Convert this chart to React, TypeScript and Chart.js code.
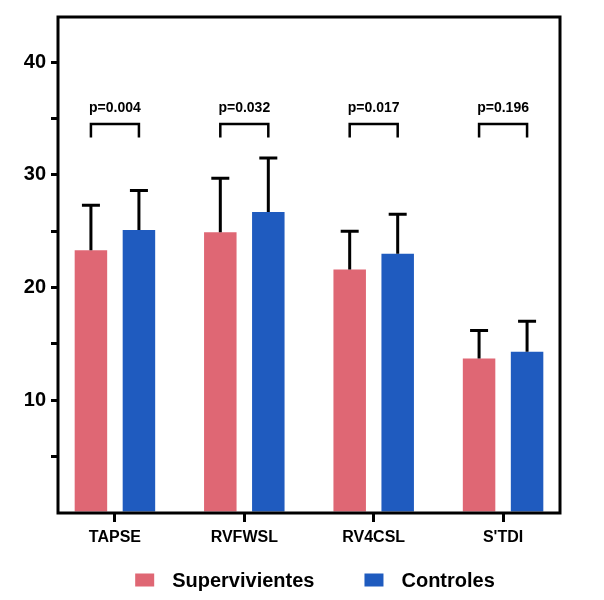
import { useEffect, useRef } from 'react'
import { Chart, registerables } from 'chart.js'

Chart.register(...registerables)

const CATEGORIES = ['TAPSE', 'RVFWSL', 'RV4CSL', "S'TDI"]
const SUPERVIVIENTES = [23.3, 24.9, 21.6, 13.7]
const SUPERVIVIENTES_SD = [4.0, 4.8, 3.4, 2.5]
const CONTROLES = [25.1, 26.7, 23.0, 14.3]
const CONTROLES_SD = [3.5, 4.8, 3.5, 2.7]
const P_VALUES = ['p=0.004', 'p=0.032', 'p=0.017', 'p=0.196']
const Y_TICKS = [0, 5, 10, 15, 20, 25, 30, 35, 40]
const BRACKET_TOP = 34.5
const BRACKET_FOOT = 33.3

const RED = '#DF6774'
const BLUE = '#1F5BBF'
const FONT = "'Liberation Sans', Arial, Helvetica, sans-serif"

// one-sided SD whiskers on top of each bar
const errorBars = {
  id: 'errorBars',
  afterDatasetsDraw(chart: any) {
    const { ctx } = chart
    const y = chart.scales.y
    const sds = [SUPERVIVIENTES_SD, CONTROLES_SD]
    ctx.save()
    ctx.strokeStyle = '#000'
    ctx.lineWidth = 3
    chart.data.datasets.forEach((ds: any, di: number) => {
      chart.getDatasetMeta(di).data.forEach((bar: any, i: number) => {
        const top = y.getPixelForValue(ds.data[i].y + sds[di][i])
        ctx.beginPath()
        ctx.moveTo(bar.x, bar.y)
        ctx.lineTo(bar.x, top)
        ctx.moveTo(bar.x - 9, top)
        ctx.lineTo(bar.x + 9, top)
        ctx.stroke()
      })
    })
    ctx.restore()
  },
}

const brackets = {
  id: 'brackets',
  afterDatasetsDraw(chart: any) {
    const { ctx } = chart
    const y = chart.scales.y
    const m0 = chart.getDatasetMeta(0)
    const m1 = chart.getDatasetMeta(1)
    const yt = y.getPixelForValue(BRACKET_TOP)
    const yf = y.getPixelForValue(BRACKET_FOOT)
    ctx.save()
    ctx.strokeStyle = '#000'
    ctx.lineWidth = 2.5
    ctx.fillStyle = '#000'
    ctx.font = `bold 14px ${FONT}`
    ctx.textAlign = 'center'
    ctx.textBaseline = 'alphabetic'
    P_VALUES.forEach((p, i) => {
      const x0 = m0.data[i].x
      const x1 = m1.data[i].x
      ctx.beginPath()
      ctx.moveTo(x0, yf)
      ctx.lineTo(x0, yt)
      ctx.lineTo(x1, yt)
      ctx.lineTo(x1, yf)
      ctx.stroke()
      ctx.fillText(p, (x0 + x1) / 2, yt - 12)
    })
    ctx.restore()
  },
}

const frame = {
  id: 'frame',
  afterDatasetsDraw(chart: any) {
    const { ctx, chartArea: a } = chart
    ctx.save()
    ctx.strokeStyle = '#000'
    ctx.lineWidth = 3
    ctx.strokeRect(a.left, a.top, a.right - a.left, a.bottom - a.top)
    ctx.restore()
  },
}

const legendBox = {
  id: 'legendBox',
  afterDraw(chart: any) {
    const { ctx, chartArea: a } = chart
    const items = chart.data.datasets.map((ds: any) => ({ label: ds.label, color: ds.backgroundColor }))
    ctx.save()
    ctx.font = `bold 20px ${FONT}`
    const widths = items.map((it: any) => ctx.measureText(it.label).width)
    const total = widths.reduce((s: number, w: number) => s + w, 0) + items.length * 37 + 50 * (items.length - 1)
    let x = (a.left + a.right) / 2 + 6 - total / 2
    const cy = 580
    ctx.textBaseline = 'middle'
    ctx.textAlign = 'left'
    items.forEach((it: any, i: number) => {
      ctx.fillStyle = it.color
      ctx.fillRect(x, cy - 6.5, 19, 13)
      ctx.fillStyle = '#000'
      ctx.fillText(it.label, x + 37, cy + 1)
      x += 37 + widths[i] + 50
    })
    ctx.restore()
  },
}

export default function App() {
  const canvasRef = useRef<HTMLCanvasElement>(null)
  const chartRef = useRef<any>(null)

  useEffect(() => {
    if (!canvasRef.current) return
    if (chartRef.current) chartRef.current.destroy()

    chartRef.current = new Chart(canvasRef.current, {
      type: 'bar',
      data: {
        datasets: [
          {
            label: 'Supervivientes',
            data: SUPERVIVIENTES.map((v, i) => ({ x: i, y: v })),
            backgroundColor: RED,
            categoryPercentage: 0.742,
            barPercentage: 0.677,
          },
          {
            label: 'Controles',
            data: CONTROLES.map((v, i) => ({ x: i, y: v })),
            backgroundColor: BLUE,
            categoryPercentage: 0.742,
            barPercentage: 0.677,
          },
        ],
      },
      options: {
        animation: false,
        responsive: true,
        maintainAspectRatio: false,
        layout: { padding: { top: 13, right: 44, left: 0, bottom: 0 } },
        plugins: {
          legend: { display: false },
          tooltip: { enabled: false },
        },
        scales: {
          x: {
            type: 'linear',
            min: -0.44,
            max: 3.44,
            offset: false,
            afterBuildTicks: (s: any) => { s.ticks = CATEGORIES.map((_, i) => ({ value: i })) },
            afterFit: (s: any) => { s.height = 87 },
            ticks: {
              callback: (v: any) => CATEGORIES[v] ?? '',
              color: '#000',
              font: { family: FONT, size: 16, weight: 'bold' },
              padding: 6,
              autoSkip: false,
              maxRotation: 0,
            },
            grid: { offset: false, drawOnChartArea: false, tickLength: 9, lineWidth: 3, color: '#000' },
            border: { display: false },
          },
          y: {
            min: 0,
            max: 44,
            afterBuildTicks: (s: any) => { s.ticks = Y_TICKS.map(v => ({ value: v })) },
            afterFit: (s: any) => { s.width = 58 },
            ticks: {
              callback: (v: any) => (v % 10 === 0 && v > 0 ? String(v) : ''),
              color: '#000',
              font: { family: FONT, size: 20, weight: 'bold' },
              padding: 5,
              autoSkip: false,
            },
            grid: {
              drawOnChartArea: false,
              tickLength: 7,
              lineWidth: 3,
              color: (c: any) => (c.tick && c.tick.value === 0 ? 'rgba(0,0,0,0)' : '#000'),
            },
            border: { display: false },
          },
        },
      } as any,
      plugins: [errorBars, brackets, frame, legendBox],
    })

    return () => { if (chartRef.current) chartRef.current.destroy() }
  }, [])

  return (
    <div style={{ position: 'fixed', left: 0, top: 0, width: 604, height: 600, background: '#fff' }}>
      <canvas ref={canvasRef} />
    </div>
  )
}
